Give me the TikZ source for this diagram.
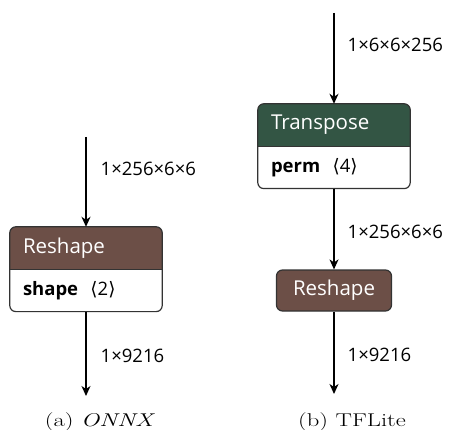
\documentclass[tikz,border=0pt]{standalone}
\usepackage{fontspec}
\newfontfamily\netronfont{Open Sans}
\newfontfamily\bracketfont{DejaVu Sans}
\usetikzlibrary{arrows.meta,positioning,backgrounds}

\definecolor{shapebrown}{RGB}{108,79,71}
\definecolor{transformgreen}{RGB}{51,85,68}
\definecolor{nodeborder}{RGB}{51,51,51}

\tikzset{
  ophead/.style={text=white,font=\netronfont\fontsize{20.5}{24}\selectfont,
    text width=126pt,inner xsep=13pt,inner ysep=0pt,minimum height=42pt,align=left},
  opattr/.style={text=black,font=\netronfont\fontsize{18.5}{22}\selectfont,
    text width=126pt,inner xsep=13pt,inner ysep=0pt,minimum height=42pt,align=left},
  opsingle/.style={fill=shapebrown,draw=nodeborder,line width=1.2pt,rounded corners=6pt,
    text=white,font=\netronfont\fontsize{20.5}{24}\selectfont,
    minimum width=115pt,inner ysep=0pt,minimum height=41pt},
  flow/.style={line width=1.4pt,-{Stealth[length=10pt,width=9pt,inset=3pt]}},
  dims/.style={font=\netronfont\fontsize{18.5}{22}\selectfont,inner sep=0pt},
  caption/.style={font=\rmfamily\fontsize{18.5}{22}\selectfont,inner sep=0pt,
    transform shape,xscale=1.33}
}

% frame of an operator box: header node, attribute node, header colour
\newcommand\DrawOpFrame[3]{
  \begin{scope}[on background layer]
    \fill[white,rounded corners=6pt] (#1.north west) rectangle (#2.south east);
    \fill[#3] (#1.south west) [rounded corners=6pt] -- (#1.north west) -- (#1.north east)
      [sharp corners] -- (#1.south east) -- cycle;
    \draw[nodeborder,line width=1.2pt,rounded corners=6pt] (#1.north west) rectangle (#2.south east);
    \draw[nodeborder,line width=1.2pt] (#1.south west) -- (#1.south east);
  \end{scope}
}

\begin{document}
\begin{tikzpicture}[x=1pt,y=-1pt]
  \useasboundingbox (0,0) rectangle (449,430);

  % ONNX graph
  \coordinate (onnxin) at (86,137);
  \node[ophead] (onnxhead) at (86,248) {Reshape};
  \node[opattr,below=0pt of onnxhead] (onnxattr) {\textbf{shape}\ \ {\bracketfont⟨}2{\bracketfont⟩}};
  \DrawOpFrame{onnxhead}{onnxattr}{shapebrown}
  \coordinate (onnxout) at (86,396);

  \draw[flow] (onnxin) -- (onnxhead) node[dims,pos=0.36,right=14pt] {1×256×6×6};
  \draw[flow] (onnxattr) -- (onnxout) node[dims,pos=0.52,right=14pt] {1×9216};

  % TFLite graph
  \coordinate (tfin) at (334,13);
  \node[ophead] (tfhead) at (334,125) {Transpose};
  \node[opattr,below=0pt of tfhead] (tfattr) {\textbf{perm}\ \ {\bracketfont⟨}4{\bracketfont⟩}};
  \DrawOpFrame{tfhead}{tfattr}{transformgreen}
  \node[opsingle] (tfreshape) at (334,290.5) {Reshape};
  \coordinate (tfout) at (334,394);

  \draw[flow] (tfin) -- (tfhead) node[dims,pos=0.35,right=13pt] {1×6×6×256};
  \draw[flow] (tfattr) -- (tfreshape) node[dims,pos=0.54,right=13pt] {1×256×6×6};
  \draw[flow] (tfreshape) -- (tfout) node[dims,pos=0.52,right=13pt] {1×9216};

  % captions
  \node[caption,anchor=base] (onnxcap) at (100,426) {(a) \textit{ONNX}};
  \node[caption,anchor=base] (tfcap) at (352,426) {(b) TFLite};
\end{tikzpicture}
\end{document}
